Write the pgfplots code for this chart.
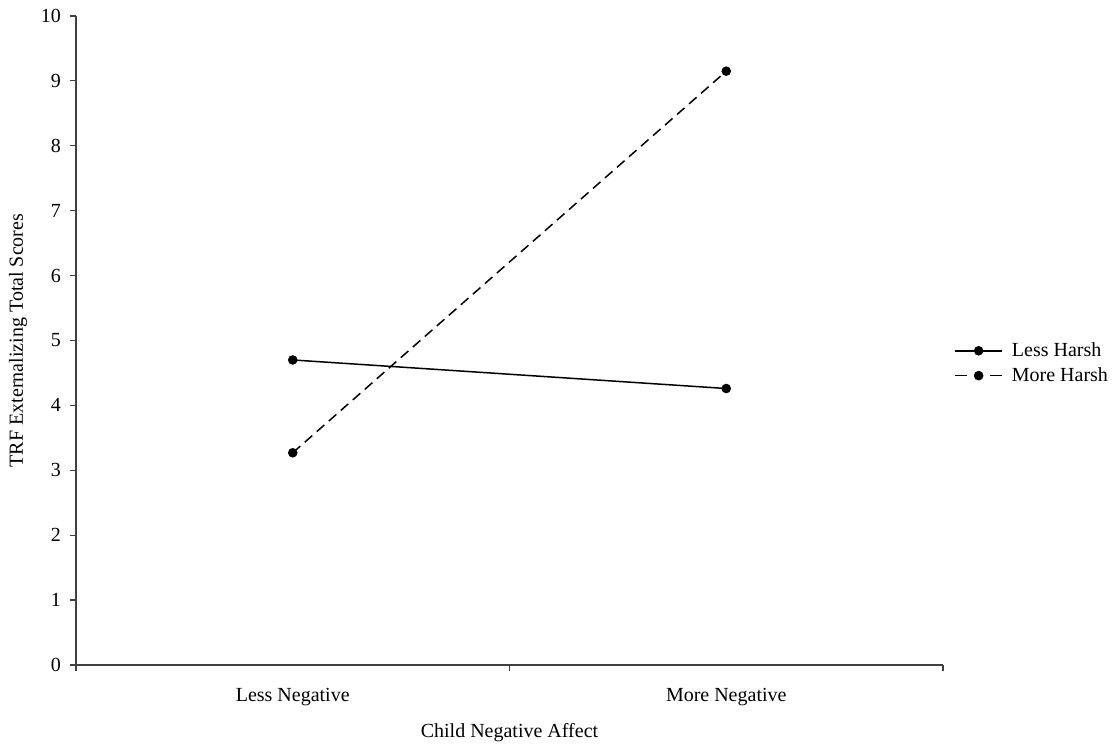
\documentclass[border=0pt]{standalone}
\usepackage{fontspec}
\setmainfont{Liberation Serif}
\usepackage{pgfplots}
\pgfplotsset{compat=1.18}
\pgfplotsset{
  lhleg/.style={legend image code/.code={
    \draw[##1] (0pt,0pt) -- (23.5pt,0pt);
    \draw[##1] plot coordinates {(11.75pt,0pt)};
  }},
  mhleg/.style={legend image code/.code={
    \draw[##1, dash pattern=on 6pt off 11.5pt] (0pt,0pt) -- (23.5pt,0pt);
    \draw[##1, solid] plot coordinates {(11.75pt,0pt)};
  }},
}
\begin{document}
\begin{tikzpicture}[font=\fontsize{10}{12}\selectfont]
\begin{axis}[
  scale only axis,
  width=433.5pt, height=324.5pt,
  at={(0,0)}, anchor=south west,
  xmin=0, xmax=2, ymin=0, ymax=10,
  axis x line*=bottom, axis y line*=left,
  axis line style={line width=0.6pt, black!75, -},
  tick style={line width=0.6pt, black!75},
  tick align=outside,
  major tick length=3pt,
  xtick={0,1,2}, xticklabels={},
  extra x ticks={0.5,1.5},
  extra x tick labels={Less Negative, More Negative},
  extra x tick style={major tick length=0pt, xticklabel style={yshift=-8pt}},
  ytick={0,1,...,10},
  /pgf/number format/assume math mode=true,
  yticklabel style={xshift=-1pt},
  xlabel={Child Negative Affect},
  xlabel style={yshift=1pt},
  ylabel={TRF Externalizing Total Scores},
  legend style={at={(1.0127,0.465)}, anchor=west, draw=none, fill=none,
    inner sep=0pt, row sep=0pt, font=\fontsize{10}{12}\selectfont,
    nodes={inner xsep=4.5pt}},
  legend cell align=left,
  clip=false,
]
\addplot[black, line width=0.75pt, mark=*, mark size=2pt, mark options={solid}, lhleg]
  coordinates {(0.5,4.70) (1.5,4.26)};
\addlegendentry{Less Harsh}
\addplot[black, line width=0.75pt, dash pattern=on 5pt off 3pt, mark=*, mark size=2pt, mark options={solid}, mhleg]
  coordinates {(0.5,3.27) (1.5,9.15)};
\addlegendentry{More Harsh}
\end{axis}
\pgfresetboundingbox
\path[use as bounding box] (-38pt,-41.5pt) rectangle (518.5pt,332.5pt);
\end{tikzpicture}
\end{document}
